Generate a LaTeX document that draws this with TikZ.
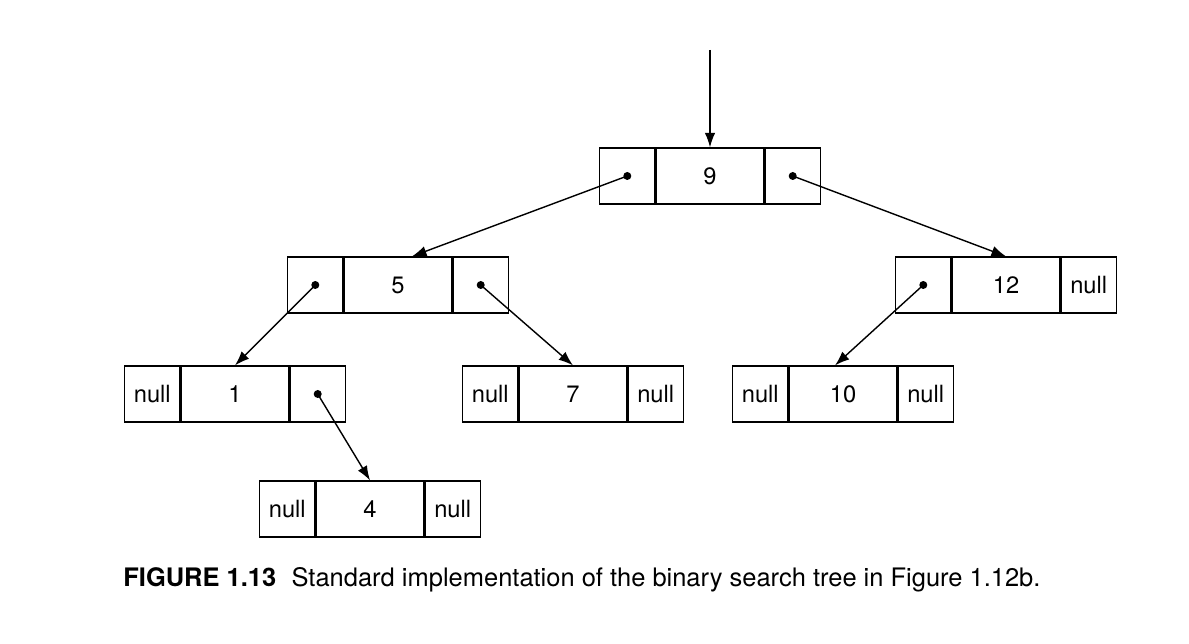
\documentclass[tikz,border=0pt]{standalone}
\usepackage{fontspec}
\setmainfont{TeX Gyre Heros}
\usepackage{tikz}
\usetikzlibrary{positioning}
\usetikzlibrary{arrows.meta}
\tikzset{%
  keycell/.style={rectangle, draw, line width=0.7pt, minimum width=2.16cm, minimum height=1.12cm, inner sep=0pt, font=\fontsize{13.5}{16}\selectfont},
  ptrcell/.style={rectangle, draw, line width=0.7pt, minimum width=1.1cm, minimum height=1.12cm, inner sep=0pt, font=\fontsize{13.5}{16}\selectfont},
  dot/.style={circle, fill, inner sep=0pt, minimum size=1.6mm},
  link/.style={-{Latex[length=2.9mm, width=2.1mm]}, line width=0.8pt}
}
\begin{document}
\begin{tikzpicture}[x=0.02cm, y=-0.02cm]
    \useasboundingbox (0,0) rectangle (1189,644);

    % root
    \node[keycell] (n9) at (710,176) {9};
    \node[ptrcell, left=0pt of n9] (n9l) {};
    \node[ptrcell, right=0pt of n9] (n9r) {};

    % level 1
    \node[keycell] (n5) at (398,285) {5};
    \node[ptrcell, left=0pt of n5] (n5l) {};
    \node[ptrcell, right=0pt of n5] (n5r) {};

    \node[keycell] (n12) at (1006,285) {12};
    \node[ptrcell, left=0pt of n12] (n12l) {};
    \node[ptrcell, right=0pt of n12] (n12r) {null};

    % level 2
    \node[keycell] (n1) at (235,394) {1};
    \node[ptrcell, left=0pt of n1] (n1l) {null};
    \node[ptrcell, right=0pt of n1] (n1r) {};

    \node[keycell] (n7) at (573,394) {7};
    \node[ptrcell, left=0pt of n7] (n7l) {null};
    \node[ptrcell, right=0pt of n7] (n7r) {null};

    \node[keycell] (n10) at (843,394) {10};
    \node[ptrcell, left=0pt of n10] (n10l) {null};
    \node[ptrcell, right=0pt of n10] (n10r) {null};

    % level 3
    \node[keycell] (n4) at (370,509) {4};
    \node[ptrcell, left=0pt of n4] (n4l) {null};
    \node[ptrcell, right=0pt of n4] (n4r) {null};

    % pointers
    \node[dot] (d9l) at (n9l.center) {};
    \node[dot] (d9r) at (n9r.center) {};
    \node[dot] (d5l) at (n5l.center) {};
    \node[dot] (d5r) at (n5r.center) {};
    \node[dot] (d12l) at (n12l.center) {};
    \node[dot] (d1r) at (n1r.center) {};

    \coordinate (root) at (710,50);
    \draw[link] (root) -- (n9.north);
    \draw[link] (d9l.center) -- ([xshift=0.28cm]n5.north);
    \draw[link] (d9r.center) -- (n12.north);
    \draw[link] (d5l.center) -- (n1.north);
    \draw[link] (d5r.center) -- (n7.north);
    \draw[link] (d12l.center) -- ([xshift=-0.16cm]n10.north);
    \draw[link] (d1r.center) -- (n4.north);

    % caption
    \node[anchor=west, inner sep=0pt, font=\fontsize{14.5}{17}\selectfont] (caption) at (123,580)
        {\textbf{FIGURE 1.13}\hspace{0.6em}Standard implementation of the binary search tree in Figure 1.12b.};
\end{tikzpicture}
\end{document}
